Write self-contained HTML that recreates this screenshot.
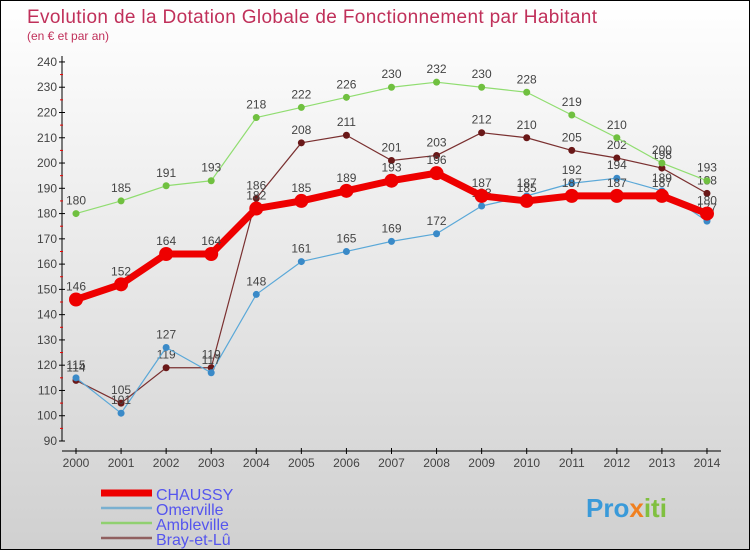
<!DOCTYPE html>
<html><head><meta charset="utf-8"><style>
body{margin:0}
#c{width:748px;height:548px;border:1px solid #000;background:linear-gradient(#fff,#d0d0d0);position:relative;overflow:hidden}
svg text{font-family:"Liberation Sans",sans-serif}
</style></head><body>
<div id="c">
<svg id="s" width="748" height="548">
<text x="26" y="22" font-size="19" fill="#c0305a" textLength="570">Evolution de la Dotation Globale de Fonctionnement par Habitant</text>
<text x="26" y="39" font-size="12" fill="#c0305a">(en € et par an)</text>
<text x="585" y="516" font-size="26" font-weight="bold" fill="#3a9ad9">Pro<tspan fill="#f08020">x</tspan><tspan fill="#80c040">iti</tspan></text>
</svg></div>
<script>
const years=[2000,2001,2002,2003,2004,2005,2006,2007,2008,2009,2010,2011,2012,2013,2014];
const chaussy=[146,152,164,164,182,185,189,193,196,187,185,187,187,187,180];
const omerville=[115,101,127,117,148,161,165,169,172,183,187,192,194,189,177];
const ambleville=[180,185,191,193,218,222,226,230,232,230,228,219,210,200,193];
const bray=[114,105,119,119,186,208,211,201,203,212,210,205,202,198,188];
const yTicks=[90,100,110,120,130,140,150,160,170,180,190,200,210,220,230,240];
const s=document.getElementById('s');const NS='http://www.w3.org/2000/svg';
const X=i=>75+i*45.07, Y=v=>440-(v-90)*2.527;
function mk(t,a,p){const e=document.createElementNS(NS,t);for(const k in a)e.setAttribute(k,a[k]);(p||s).appendChild(e);return e;}
let e=mk('line',{x1:61,y1:55,x2:61,y2:440,stroke:'#000'});


e=mk('line',{x1:61,y1:450,x2:720,y2:450,stroke:'#000'});


yTicks.forEach(v=>{mk('line',{x1:58,x2:64,y1:Y(v),y2:Y(v),stroke:'#000'});
if(v<240)mk('line',{x1:59,x2:62,y1:Y(v+5),y2:Y(v+5),stroke:'#e00'});
const t=mk('text',{x:56,y:Y(v)+4,'font-size':12,'text-anchor':'end',fill:'#444'});t.textContent=v;

});
years.forEach((y,i)=>{mk('line',{x1:X(i),x2:X(i),y1:447,y2:453,stroke:'#000'});
const t=mk('text',{x:X(i),y:466,'font-size':12,'text-anchor':'middle',fill:'#444'});t.textContent=y;

});
function series(d,col,dot,w,r,name){const g=mk('g',{});


mk('polyline',{points:d.map((v,i)=>X(i)+','+Y(v)).join(' '),fill:'none',stroke:col,'stroke-width':w,'stroke-linejoin':'round'},g);
d.forEach((v,i)=>{const c=mk('circle',{cx:X(i),cy:Y(v),r:r,fill:dot},g);


const t=mk('text',{x:X(i),y:Y(v)-9,'font-size':12,'text-anchor':'middle',fill:'#444'},g);t.textContent=v;});}
series(bray,'#7a3030','#6a1818',1.2,3.5,'bray-et-lu');
series(ambleville,'#90dd70','#70c040',1.2,3.5,'ambleville');
series(omerville,'#5aa8d8','#3a8ac8',1.2,3.5,'omerville');
series(chaussy,'#ee0000','#ee0000',7,7,'chaussy');
const leg=[['CHAUSSY','#ee0000',7],['Omerville','#7ab0d0',2.5],['Ambleville','#90d070',2.5],['Bray-et-Lû','#906060',2.5]];
leg.forEach((l,i)=>{const y=492+i*15;const g=mk('g',{});


mk('line',{x1:100,x2:151,y1:y,y2:y,stroke:l[1],'stroke-width':l[2]},g);
const t=mk('text',{x:155,y:y+7,'font-size':16,fill:'#5555ee'},g);t.textContent=l[0];});
</script></body></html>
